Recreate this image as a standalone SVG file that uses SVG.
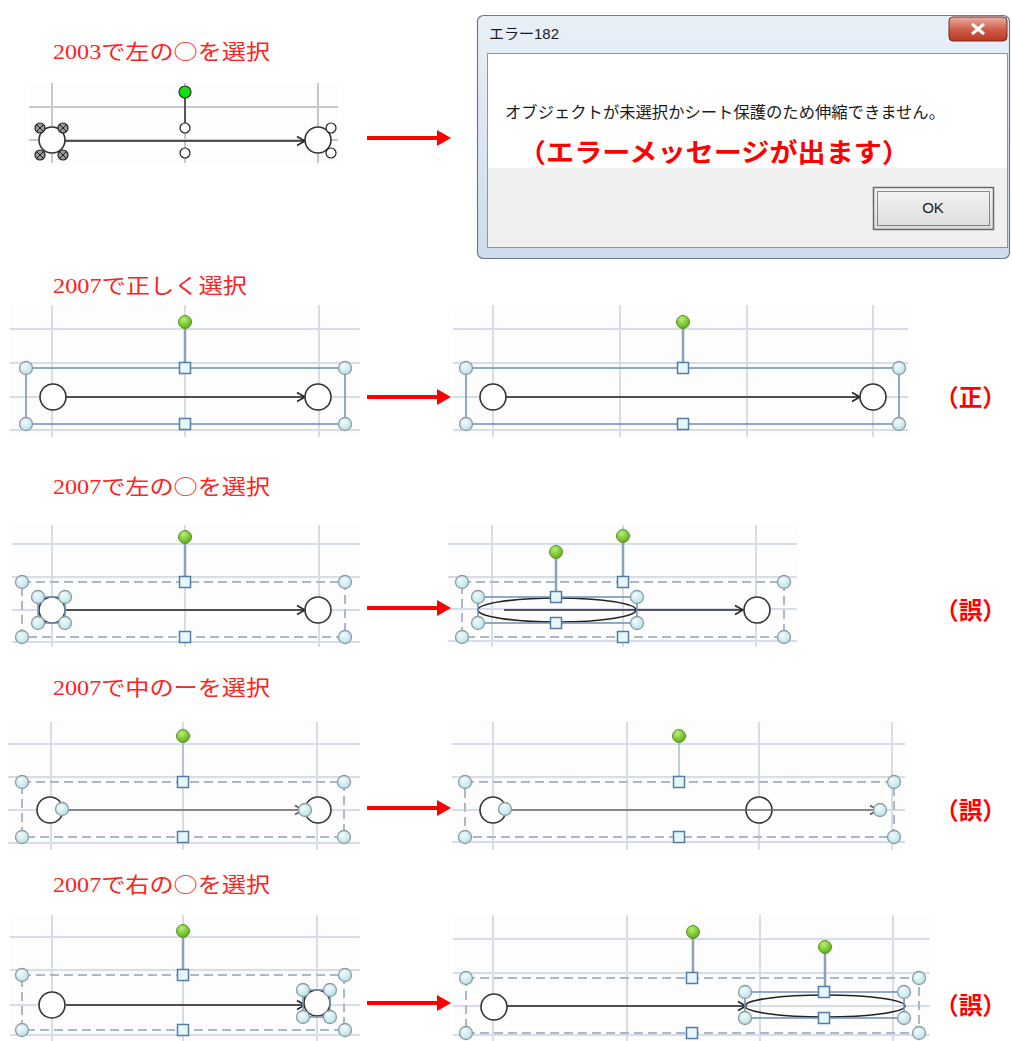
<svg xmlns="http://www.w3.org/2000/svg" xmlns:xlink="http://www.w3.org/1999/xlink" width="1012" height="1041" viewBox="0 0 1012 1041">
<style>
.ttl{font-family:"Liberation Serif","Noto Sans CJK JP",serif;font-size:21px;fill:#ff2222}
.cj{font-family:"Noto Sans CJK JP",sans-serif}
.lbl{font-family:"Noto Sans CJK JP",sans-serif;font-size:24px;font-weight:bold;fill:#ff0000}
.g3{stroke:#c8c8c8;stroke-width:2;fill:none}
.g7{stroke:#d6dce8;stroke-width:2;fill:none}
.bg{fill:#fdfdfe}
.big{fill:#fff;stroke:#333;stroke-width:1.6}
.con{stroke:#222;stroke-width:1.6;fill:none}
.cong{stroke:#6a6a6a;stroke-width:1.6;fill:none}
.sel{stroke:#7494b8;stroke-width:1.6;fill:none}
.dsh{stroke:#a9b9cb;stroke-width:2;fill:none;stroke-dasharray:9 5}
.stem{stroke:#8aa2bd;stroke-width:2.5}
.red{stroke:#ff0000;stroke-width:4;fill:none}
.dlg{font-family:"Liberation Sans","Noto Sans CJK JP",sans-serif;fill:#1a1a1a}
</style>
<defs>
<radialGradient id="gc" cx="0.4" cy="0.35" r="0.7"><stop offset="0" stop-color="#f2fcfd"/><stop offset="1" stop-color="#b8dfe6"/></radialGradient>
<radialGradient id="gg" cx="0.4" cy="0.3" r="0.7"><stop offset="0" stop-color="#b8f070"/><stop offset="1" stop-color="#5cae18"/></radialGradient>
<linearGradient id="tb" x1="0" y1="0" x2="0" y2="1"><stop offset="0" stop-color="#e8f0f8"/><stop offset="1" stop-color="#cddcec"/></linearGradient>
<linearGradient id="cb" x1="0" y1="0" x2="0" y2="1"><stop offset="0" stop-color="#eab0a4"/><stop offset="0.5" stop-color="#d0604c"/><stop offset="1" stop-color="#b8381f"/></linearGradient>
<linearGradient id="ok" x1="0" y1="0" x2="0" y2="1"><stop offset="0" stop-color="#f4f4f4"/><stop offset="1" stop-color="#dcdcdc"/></linearGradient>
<circle id="hc" r="6.5" fill="url(#gc)" stroke="#8c9ca6" stroke-width="1.3"/>
<rect id="hs" x="-5.5" y="-5.5" width="11" height="11" fill="#e6f7fb" stroke="#557ca6" stroke-width="1.5"/>
<circle id="hg" r="6.5" fill="url(#gg)" stroke="#5f8f2a" stroke-width="1"/>
<circle id="hw" r="5" fill="#fff" stroke="#222" stroke-width="1.2"/>
<g id="hx"><circle r="5" fill="#999" stroke="#222" stroke-width="1.2"/><path d="M-3,-3 L3,3 M3,-3 L-3,3" stroke="#222" stroke-width="1"/></g>
<marker id="ba" markerUnits="userSpaceOnUse" markerWidth="12" markerHeight="12" refX="10" refY="6" orient="auto"><path d="M2,1.5 L10,6 L2,10.5" fill="none" stroke="#222" stroke-width="1.5"/></marker>
<marker id="bag" markerUnits="userSpaceOnUse" markerWidth="12" markerHeight="12" refX="10" refY="6" orient="auto"><path d="M2,1.5 L10,6 L2,10.5" fill="none" stroke="#555" stroke-width="1.5"/></marker>
<marker id="ra" markerUnits="userSpaceOnUse" markerWidth="15" markerHeight="16" refX="0" refY="8" orient="auto"><path d="M0,0 L14,8 L0,16 z" fill="#ff0000"/></marker>
</defs>
<rect width="1012" height="1041" fill="#ffffff"/>

<!-- Titles -->
<g id="titles">
<text class="ttl" x="53" y="59" textLength="217" lengthAdjust="spacingAndGlyphs">2003で左の<tspan class="cj">○</tspan>を選択</text>
<text class="ttl" x="53" y="293" textLength="194" lengthAdjust="spacingAndGlyphs">2007で正しく選択</text>
<text class="ttl" x="53" y="494" textLength="217" lengthAdjust="spacingAndGlyphs">2007で左の<tspan class="cj">○</tspan>を選択</text>
<text class="ttl" x="53" y="695" textLength="217" lengthAdjust="spacingAndGlyphs">2007で中のーを選択</text>
<text class="ttl" x="53" y="892" textLength="217" lengthAdjust="spacingAndGlyphs">2007で右の<tspan class="cj">○</tspan>を選択</text>
</g>

<!-- Section 1: 2003 -->
<g id="s1-before">
<rect class="bg" x="29" y="83" width="310" height="80"/>
<path class="g3" d="M29,107 H338 M29,140 H338 M52,83 V163 M185,83 V163 M318,83 V163"/>
<line class="con" x1="65" y1="141" x2="305" y2="141" marker-end="url(#ba)"/>
<circle class="big" cx="52" cy="140" r="13"/>
<circle class="big" cx="318" cy="140" r="13"/>
<line x1="185" y1="97" x2="185" y2="123" stroke="#333" stroke-width="1.5"/>
<circle cx="185" cy="92" r="6" fill="#11e011" stroke="#333" stroke-width="1.2"/>
<use href="#hw" x="185" y="128"/>
<use href="#hw" x="185" y="153"/>
<use href="#hw" x="331" y="128"/>
<use href="#hw" x="331" y="153"/>
<use href="#hx" x="40" y="128"/>
<use href="#hx" x="63" y="128"/>
<use href="#hx" x="40" y="155"/>
<use href="#hx" x="63" y="155"/>
</g>

<!-- Error dialog -->
<g id="dialog">
<rect x="477.5" y="15.5" width="532" height="243" rx="6" fill="url(#tb)" stroke="#6b7b8c" stroke-width="1.2"/>
<text class="dlg" x="489" y="39" font-size="15">エラー182</text>
<rect x="949" y="17" width="58" height="24" rx="4" fill="url(#cb)" stroke="#7a2a20"/>
<path d="M972,24 L984,34 M984,24 L972,34" stroke="#ffffff" stroke-width="3"/>
<rect x="487.5" y="53.5" width="520" height="194" fill="#f0f0f0" stroke="#8a96a3"/>
<rect x="488" y="54" width="519" height="114" fill="#ffffff"/>
<text class="dlg" x="505" y="118" font-size="16" textLength="440" lengthAdjust="spacingAndGlyphs">オブジェクトが未選択かシート保護のため伸縮できません。</text>
<text x="518" y="162" font-family="'Noto Sans CJK JP',sans-serif" font-size="26" font-weight="bold" fill="#ff0000" textLength="392" lengthAdjust="spacingAndGlyphs">（エラーメッセージが出ます）</text>
<rect x="873.5" y="187.5" width="120" height="42" fill="url(#ok)" stroke="#6a6a6a" stroke-width="1.5"/>
<rect x="877.5" y="191.5" width="112" height="34" fill="none" stroke="#222" stroke-dasharray="1 1"/>
<text class="dlg" x="933" y="213" font-size="15" text-anchor="middle">OK</text>
</g>

<!-- Section 2 -->
<g id="s2-before">
<rect class="bg" x="10" y="305" width="350" height="132"/>
<path class="g7" d="M10,329 H360 M10,363 H360 M10,397 H360 M10,430 H360 M52,305 V437 M185,305 V437 M319,305 V437"/>
<rect class="sel" x="26" y="368" width="319" height="56"/>
<line class="con" x1="66" y1="397" x2="305" y2="397" marker-end="url(#ba)"/>
<circle class="big" cx="53" cy="397" r="13"/>
<circle class="big" cx="318" cy="397" r="13"/>
<line class="stem" x1="185" y1="322" x2="185" y2="368"/>
<use href="#hg" x="185" y="322"/>
<use href="#hs" x="185" y="368"/>
<use href="#hs" x="185" y="424"/>
<use href="#hc" x="26" y="368"/>
<use href="#hc" x="345" y="368"/>
<use href="#hc" x="26" y="424"/>
<use href="#hc" x="345" y="424"/>
</g>
<g id="s2-after">
<rect class="bg" x="453" y="305" width="455" height="132"/>
<path class="g7" d="M453,329 H908 M453,363 H908 M453,397 H908 M453,430 H908 M493,305 V437 M620,305 V437 M747,305 V437 M873,305 V437"/>
<rect class="sel" x="466" y="368" width="433" height="56"/>
<line class="con" x1="506" y1="397" x2="860" y2="397" stroke-width="2.2" marker-end="url(#ba)"/>
<circle class="big" cx="493" cy="397" r="13"/>
<circle class="big" cx="873" cy="397" r="13"/>
<line class="stem" x1="683" y1="322" x2="683" y2="368"/>
<use href="#hg" x="683" y="322"/>
<use href="#hs" x="683" y="368"/>
<use href="#hs" x="683" y="424"/>
<use href="#hc" x="466" y="368"/>
<use href="#hc" x="899" y="368"/>
<use href="#hc" x="466" y="424"/>
<use href="#hc" x="899" y="424"/>
</g>
<text class="lbl" x="935" y="406" textLength="71" lengthAdjust="spacingAndGlyphs">（正）</text>

<!-- Section 3 -->
<g id="s3-before">
<rect class="bg" x="12" y="525" width="348" height="122"/>
<path class="g7" d="M12,544 H360 M12,577 H360 M12,610 H360 M12,642 H360 M52,525 V647 M185,525 V647 M319,525 V647"/>
<rect class="dsh" x="22" y="582" width="323" height="55"/>
<line class="con" x1="66" y1="610" x2="305" y2="610" marker-end="url(#ba)"/>
<circle class="big" cx="52" cy="610" r="13"/>
<circle class="big" cx="318" cy="610" r="13"/>
<rect class="sel" x="38" y="597" width="27" height="26"/>
<line class="stem" x1="185" y1="537" x2="185" y2="582"/>
<use href="#hg" x="185" y="537"/>
<use href="#hs" x="185" y="582"/>
<use href="#hs" x="185" y="637"/>
<use href="#hc" x="22" y="582"/>
<use href="#hc" x="345" y="582"/>
<use href="#hc" x="22" y="637"/>
<use href="#hc" x="345" y="637"/>
<use href="#hc" x="38" y="597"/>
<use href="#hc" x="65" y="597"/>
<use href="#hc" x="38" y="623"/>
<use href="#hc" x="65" y="623"/>
</g>
<g id="s3-after">
<rect class="bg" x="448" y="525" width="349" height="122"/>
<path class="g7" d="M448,544 H797 M448,577 H797 M448,609 H797 M448,641 H797 M492,525 V647 M623,525 V647 M756,525 V647"/>
<rect class="dsh" x="462" y="582" width="322" height="55"/>
<ellipse cx="557" cy="610" rx="79" ry="12" fill="none" stroke="#222" stroke-width="1.6"/>
<line class="con" x1="504" y1="610" x2="743" y2="610" marker-end="url(#ba)"/>
<circle class="big" cx="757" cy="610" r="13"/>
<rect class="sel" x="478" y="597" width="159" height="26"/>
<line class="stem" x1="623" y1="536" x2="623" y2="582"/>
<line class="stem" x1="556" y1="552" x2="556" y2="597"/>
<use href="#hg" x="623" y="536"/>
<use href="#hg" x="556" y="552"/>
<use href="#hs" x="623" y="582"/>
<use href="#hs" x="623" y="637"/>
<use href="#hs" x="556" y="597"/>
<use href="#hs" x="556" y="623"/>
<use href="#hc" x="462" y="582"/>
<use href="#hc" x="784" y="582"/>
<use href="#hc" x="462" y="637"/>
<use href="#hc" x="784" y="637"/>
<use href="#hc" x="478" y="597"/>
<use href="#hc" x="637" y="597"/>
<use href="#hc" x="478" y="623"/>
<use href="#hc" x="637" y="623"/>
</g>
<text class="lbl" x="935" y="619" textLength="71" lengthAdjust="spacingAndGlyphs">（誤）</text>

<!-- Section 4 -->
<g id="s4-before">
<rect class="bg" x="8" y="722" width="352" height="128"/>
<path class="g7" d="M8,744 H360 M8,777 H360 M8,810 H360 M8,843 H360 M51,722 V850 M183,722 V850 M317,722 V850"/>
<rect class="dsh" x="22" y="782" width="322" height="55"/>
<circle class="big" cx="50" cy="810" r="13"/>
<circle class="big" cx="318" cy="810" r="13"/>
<line class="cong" x1="62" y1="810" x2="303" y2="810" marker-end="url(#bag)"/>
<line x1="183" y1="736" x2="183" y2="782" stroke="#9ab0c8" stroke-width="1.2"/>
<use href="#hg" x="183" y="736"/>
<use href="#hs" x="183" y="782"/>
<use href="#hs" x="183" y="837"/>
<use href="#hc" x="22" y="782"/>
<use href="#hc" x="344" y="782"/>
<use href="#hc" x="22" y="837"/>
<use href="#hc" x="344" y="837"/>
<use href="#hc" x="62" y="809"/>
<use href="#hc" x="305" y="810"/>
</g>
<g id="s4-after">
<rect class="bg" x="452" y="722" width="453" height="128"/>
<path class="g7" d="M452,744 H905 M452,777 H905 M452,810 H905 M452,842 H905 M493,722 V850 M627,722 V850 M759,722 V850 M892,722 V850"/>
<rect class="dsh" x="465" y="782" width="429" height="55"/>
<circle class="big" cx="493" cy="810" r="13"/>
<circle class="big" cx="759" cy="810" r="13"/>
<line class="cong" x1="505" y1="810" x2="878" y2="810" marker-end="url(#bag)"/>
<line x1="679" y1="736" x2="679" y2="782" stroke="#9ab0c8" stroke-width="1.2"/>
<use href="#hg" x="679" y="736"/>
<use href="#hs" x="679" y="782"/>
<use href="#hs" x="679" y="837"/>
<use href="#hc" x="465" y="782"/>
<use href="#hc" x="894" y="782"/>
<use href="#hc" x="465" y="837"/>
<use href="#hc" x="894" y="837"/>
<use href="#hc" x="505" y="809"/>
<use href="#hc" x="880" y="810"/>
</g>
<text class="lbl" x="935" y="819" textLength="71" lengthAdjust="spacingAndGlyphs">（誤）</text>

<!-- Section 5 -->
<g id="s5-before">
<rect class="bg" x="10" y="915" width="350" height="126"/>
<path class="g7" d="M10,937 H360 M10,970 H360 M10,1005 H360 M10,1035 H360 M52,915 V1041 M183,915 V1041 M317,915 V1041"/>
<rect class="dsh" x="22" y="975" width="322" height="55"/>
<line class="con" x1="66" y1="1005" x2="305" y2="1005" stroke-width="2" marker-end="url(#ba)"/>
<circle class="big" cx="52" cy="1005" r="13"/>
<circle class="big" cx="317" cy="1003" r="13"/>
<rect class="sel" x="303" y="990" width="27" height="27"/>
<line class="stem" x1="183" y1="931" x2="183" y2="975" stroke-width="1.5"/>
<use href="#hg" x="183" y="931"/>
<use href="#hs" x="183" y="975"/>
<use href="#hs" x="183" y="1030"/>
<use href="#hc" x="22" y="975"/>
<use href="#hc" x="345" y="975"/>
<use href="#hc" x="22" y="1030"/>
<use href="#hc" x="345" y="1030"/>
<use href="#hc" x="303" y="990"/>
<use href="#hc" x="330" y="990"/>
<use href="#hc" x="303" y="1017"/>
<use href="#hc" x="330" y="1017"/>
</g>
<g id="s5-after">
<rect class="bg" x="453" y="915" width="477" height="126"/>
<path class="g7" d="M453,939 H930 M453,973 H930 M453,1006 H930 M453,1035 H930 M493,915 V1041 M627,915 V1041 M760,915 V1041 M893,915 V1041"/>
<rect class="dsh" x="466" y="978" width="453" height="55"/>
<ellipse cx="825" cy="1006" rx="80" ry="11" fill="none" stroke="#222" stroke-width="1.6"/>
<line class="con" x1="507" y1="1006" x2="746" y2="1006" stroke-width="2" marker-end="url(#ba)"/>
<circle class="big" cx="494" cy="1007" r="13"/>
<rect class="sel" x="745" y="992" width="159" height="26"/>
<line class="stem" x1="693" y1="932" x2="693" y2="978"/>
<line class="stem" x1="825" y1="947" x2="825" y2="992" stroke-width="1.5"/>
<use href="#hg" x="693" y="932"/>
<use href="#hg" x="825" y="947"/>
<use href="#hs" x="692" y="978"/>
<use href="#hs" x="692" y="1033"/>
<use href="#hs" x="824" y="992"/>
<use href="#hs" x="824" y="1018"/>
<use href="#hc" x="466" y="978"/>
<use href="#hc" x="919" y="978"/>
<use href="#hc" x="466" y="1033"/>
<use href="#hc" x="919" y="1033"/>
<use href="#hc" x="745" y="992"/>
<use href="#hc" x="904" y="992"/>
<use href="#hc" x="745" y="1018"/>
<use href="#hc" x="904" y="1018"/>
</g>
<text class="lbl" x="935" y="1014" textLength="71" lengthAdjust="spacingAndGlyphs">（誤）</text>

<!-- Red arrows -->
<g id="connectors">
<line class="red" x1="367" y1="138" x2="437" y2="138" marker-end="url(#ra)"/>
<line class="red" x1="367" y1="397" x2="437" y2="397" marker-end="url(#ra)"/>
<line class="red" x1="367" y1="608" x2="437" y2="608" marker-end="url(#ra)"/>
<line class="red" x1="367" y1="808" x2="437" y2="808" marker-end="url(#ra)"/>
<line class="red" x1="367" y1="1003" x2="437" y2="1003" marker-end="url(#ra)"/>
</g>
</svg>
